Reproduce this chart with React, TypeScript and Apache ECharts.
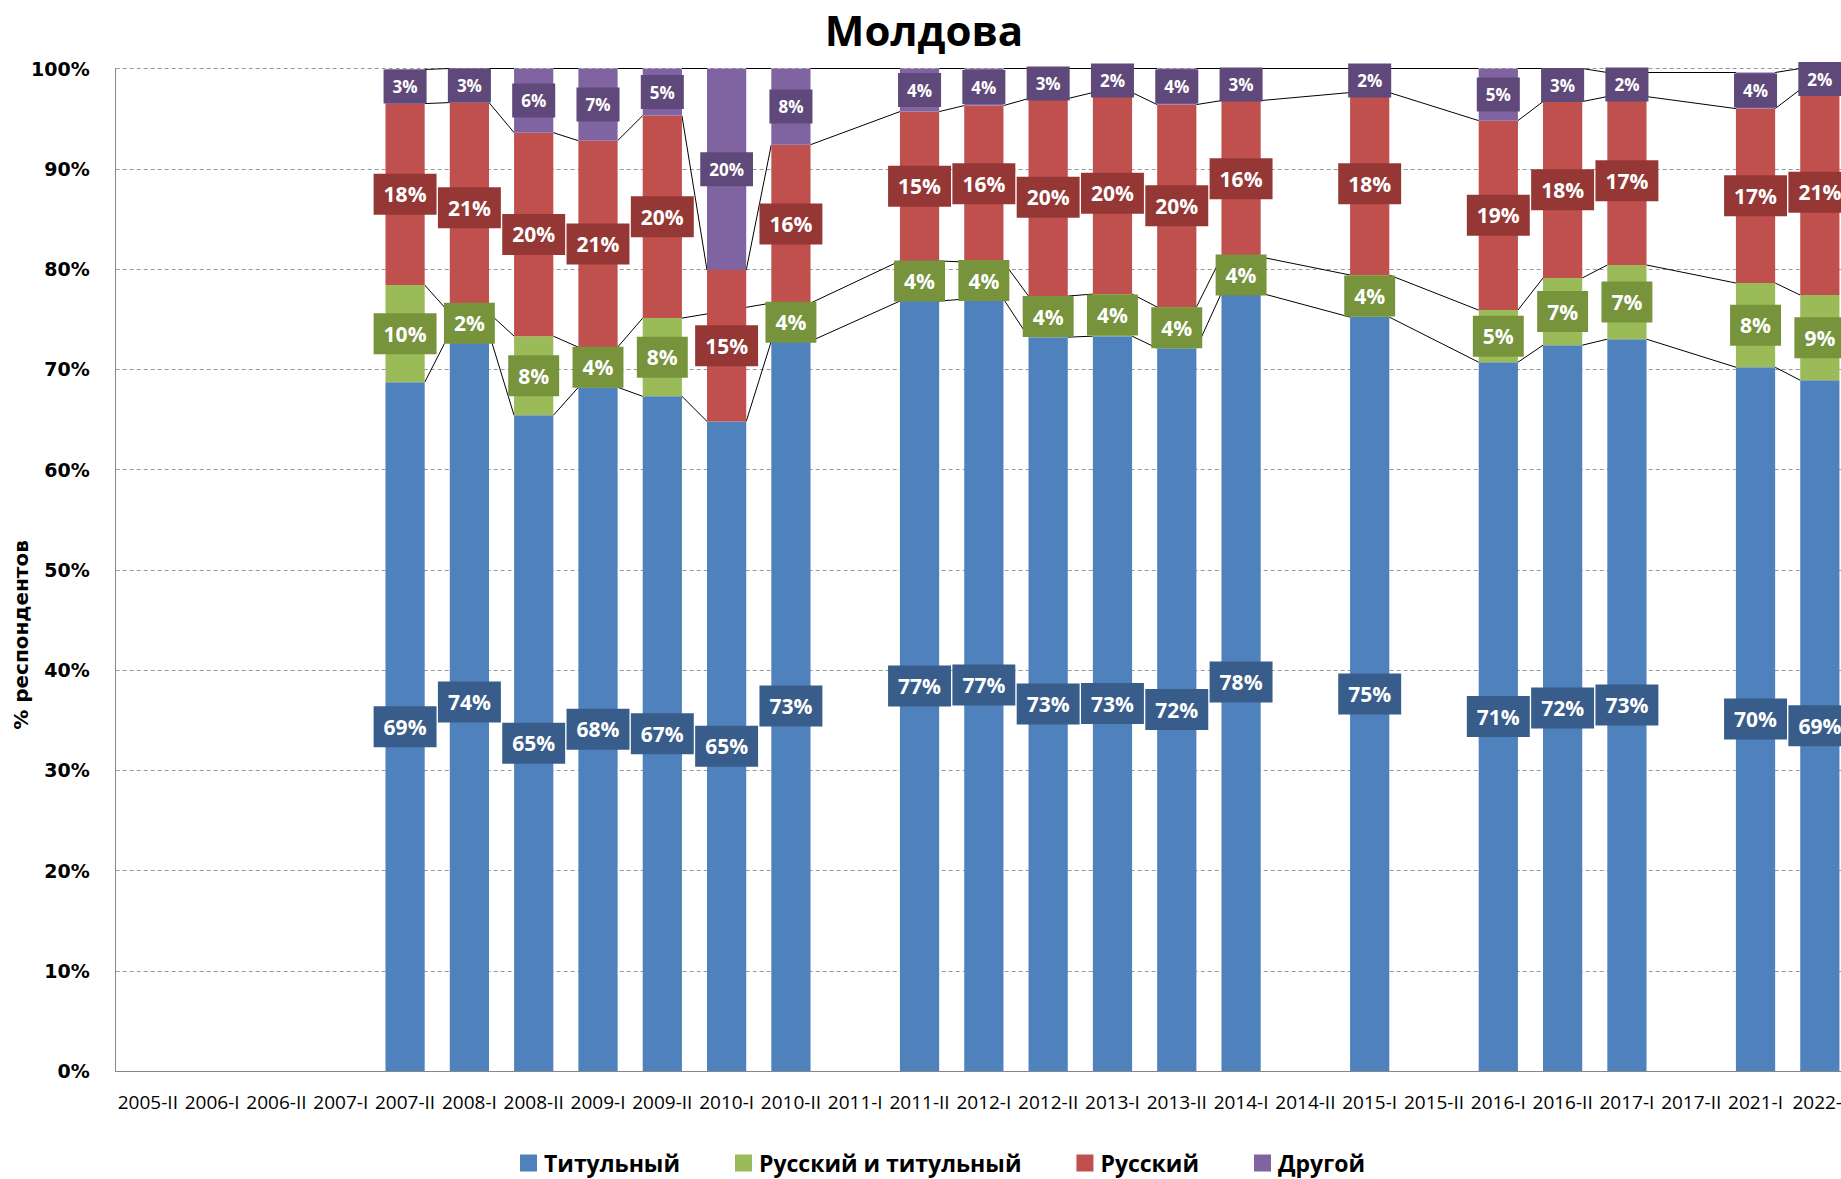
import React, { useEffect, useRef } from 'react';
import * as echarts from 'echarts';

const categories = [
  '2005-II', '2006-I', '2006-II', '2007-I', '2007-II', '2008-I', '2008-II', '2009-I', '2009-II',
  '2010-I', '2010-II', '2011-I', '2011-II', '2012-I', '2012-II', '2013-I', '2013-II', '2014-I',
  '2014-II', '2015-I', '2015-II', '2016-I', '2016-II', '2017-I', '2017-II', '2021-I', '2022-I',
];

const titular = [null, null, null, null, 68.7, 73.6, 65.4, 68.2, 67.3, 64.8, 72.8, null, 76.8, 77.0, 73.2, 73.3, 72.1, 77.6, null, 75.2, null, 70.7, 72.4, 73.0, null, 70.2, 68.9];
const russianAndTitular = [null, null, null, null, 9.7, 2.0, 7.9, 4.0, 7.8, null, 3.8, null, 4.0, 3.7, 4.1, 4.2, 4.1, 3.6, null, 4.2, null, 5.2, 6.7, 7.4, null, 8.4, 8.5];
const russian = [null, null, null, null, 18.1, 21.0, 20.3, 20.6, 20.2, 15.1, 15.8, null, 14.9, 15.6, 19.7, 20.1, 20.2, 15.6, null, 18.2, null, 18.9, 17.6, 16.8, null, 17.4, 20.5];
const other = [null, null, null, null, 3.4, 3.4, 6.4, 7.2, 4.7, 20.1, 7.6, null, 4.3, 3.7, 3.0, 2.4, 3.6, 3.2, null, 2.4, null, 5.2, 3.3, 2.4, null, 3.6, 2.1];

const seriesNames = ['Титульный', 'Русский и титульный', 'Русский', 'Другой'];
const barColors = ['#4F81BD', '#9BBB59', '#C0504D', '#8064A2'];
const labelColors = ['#385D8A', '#77933C', '#953735', '#5F497A'];

const titleText = 'Молдова';
const yAxisTitle = '% респондентов';

const BAR_FRAC = 0.61;

export default function App() {
  const ref = useRef<HTMLDivElement>(null);

  useEffect(() => {
    const chart = echarts.init(ref.current as HTMLDivElement, null, { renderer: 'svg' });
    const values = [titular, russianAndTitular, russian, other];

    // Excel-style series lines connecting the top of each stacked segment
    const segs: number[][] = [];
    for (let L = 0; L < values.length; L++) {
      let prev = -1;
      let prevY = 0;
      for (let i = 0; i < categories.length; i++) {
        if (values[L][i] == null) continue;
        let y = 0;
        for (let k = 0; k <= L; k++) y += (values[k][i] as number) ?? 0;
        if (prev >= 0) segs.push([prev, i, prevY, y]);
        prev = i;
        prevY = y;
      }
    }

    const series: any[] = [
      {
        type: 'custom',
        name: 'series-lines',
        silent: true,
        z: 1,
        clip: false,
        encode: { x: [0, 1], y: [2, 3] },
        data: segs,
        renderItem: (params: any, api: any) => {
          const p1 = api.coord([api.value(0), api.value(2)]);
          const p2 = api.coord([api.value(1), api.value(3)]);
          const half = (api.size([1, 0])[0] * BAR_FRAC) / 2;
          return {
            type: 'line',
            shape: { x1: p1[0] + half, y1: p1[1], x2: p2[0] - half, y2: p2[1] },
            style: { stroke: '#000000', lineWidth: 1 },
          };
        },
      },
    ];

    values.forEach((vals, L) => {
      series.push({
        type: 'bar',
        name: seriesNames[L],
        stack: 'visible',
        data: vals,
        barWidth: BAR_FRAC * 100 + '%',
        barGap: '-100%',
        z: 2,
        silent: true,
        itemStyle: { color: barColors[L] },
      });
    });

    values.forEach((vals, L) => {
      const small = L === 3;
      series.push({
        type: 'bar',
        name: seriesNames[L] + ' (подпись)',
        stack: 'labels',
        data: vals,
        barWidth: BAR_FRAC * 100 + '%',
        barGap: '-100%',
        z: 3,
        silent: true,
        itemStyle: { color: 'rgba(0,0,0,0)' },
        label: {
          show: true,
          position: 'inside',
          formatter: (p: any) => (p.value == null ? '' : Math.round(p.value) + '%'),
          color: '#FFFFFF',
          fontFamily: 'Open Sans',
          fontWeight: 'bold',
          fontSize: small ? 17 : 21,
          lineHeight: small ? 18 : 23,
          backgroundColor: labelColors[L],
          padding: small ? [8, 9] : [9, 10],
        },
      });
    });

    chart.setOption({
      animation: false,
      backgroundColor: '#FFFFFF',
      grid: { left: 115.7, right: 20, top: 68.5, bottom: 108, containLabel: false },
      graphic: [
        {
          type: 'text',
          x: 924,
          y: 29,
          style: {
            text: titleText,
            fontFamily: 'Open Sans',
            fontWeight: 'bold',
            fontSize: 42,
            fill: '#000000',
            align: 'center',
            verticalAlign: 'middle',
          },
        },
        {
          type: 'text',
          x: 21,
          y: 635,
          rotation: Math.PI / 2,
          style: {
            text: yAxisTitle,
            fontFamily: 'DejaVu Sans',
            fontWeight: 'bold',
            fontSize: 20,
            fill: '#000000',
            align: 'center',
            verticalAlign: 'middle',
          },
        },
      ],
      legend: {
        data: seriesNames,
        left: 515,
        top: 1145,
        icon: 'rect',
        itemWidth: 17,
        itemHeight: 17,
        itemGap: 55,
        selectedMode: false,
        textStyle: {
          fontFamily: 'Open Sans',
          fontWeight: 'bold',
          fontSize: 23,
          lineHeight: 26,
          color: '#000000',
          padding: [0, 0, 0, 2],
        },
      },
      xAxis: {
        type: 'category',
        data: categories,
        axisLine: { show: true, lineStyle: { color: '#868686', width: 1 } },
        axisTick: { show: false },
        axisLabel: {
          interval: 0,
          margin: 21,
          color: '#000000',
          fontFamily: 'Open Sans',
          fontSize: 19,
        },
        splitLine: { show: false },
      },
      yAxis: {
        type: 'value',
        min: 0,
        max: 100,
        interval: 10,
        axisLine: { show: true, lineStyle: { color: '#868686', width: 1 } },
        axisTick: { show: false },
        axisLabel: {
          formatter: '{value}%',
          margin: 26,
          color: '#000000',
          fontFamily: 'DejaVu Sans',
          fontWeight: 'bold',
          fontSize: 19,
        },
        splitLine: { show: true, lineStyle: { color: '#9A9A9A', type: [4, 3], width: 1 } },
      },
      series,
    });

    return () => {
      chart.dispose();
    };
  }, []);

  return (
    <div style={{ position: 'fixed', left: 0, top: 0, width: 1841, height: 1179, overflow: 'hidden', background: '#FFFFFF' }}>
      <div ref={ref} style={{ width: 1872, height: 1179 }} />
    </div>
  );
}
